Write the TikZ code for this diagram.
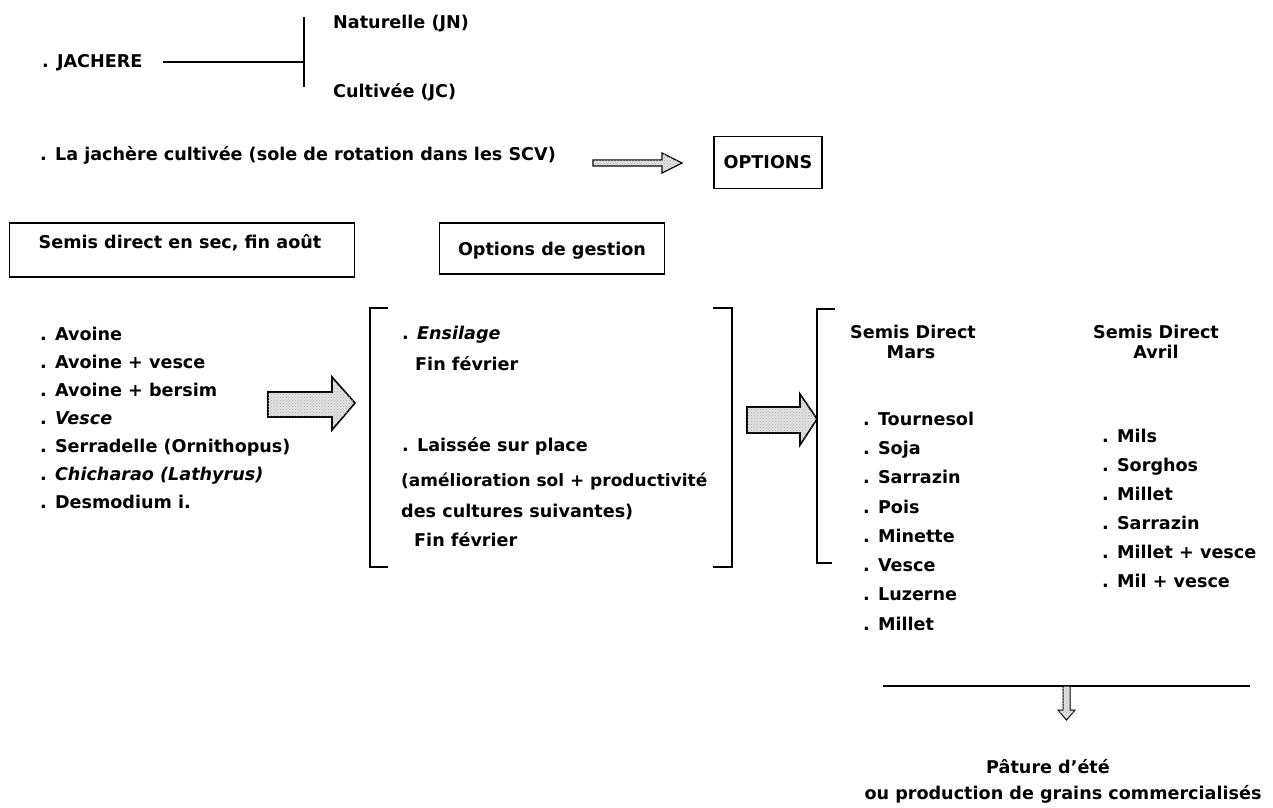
\documentclass[tikz,border=0pt]{standalone}
\usepackage{fontspec}
\setmainfont{DejaVu Sans}
\usetikzlibrary{patterns}

\begin{document}
\begin{tikzpicture}[x=1pt,y=-1pt,
  txt/.style={inner sep=0pt, anchor=base west, font=\fontsize{17.6}{20}\selectfont\bfseries},
  ctxt/.style={inner sep=0pt, anchor=base, font=\fontsize{17.6}{20}\selectfont\bfseries},
  labelbox/.style={draw, line width=1.2pt, inner sep=0pt},
  rule/.style={line width=1.3pt},
  blockarrow/.style={draw, line width=1.6pt, line join=miter, fill=gray!22,
    postaction={pattern=crosshatch dots, pattern color=gray!70}}
]
\useasboundingbox (0,0) rectangle (1273,807);

% --- Jachère: natural or cultivated
\node[txt] (jach) at (42,67) {. JACHERE};
\coordinate (jline) at (163,62);
\coordinate (fork) at (304,62);
\draw[rule] (jline) -- (fork);
\draw[rule] (304,17) -- (304,87);
\node[txt] (jn) at (333,28) {Naturelle (JN)};
\node[txt] (jc) at (333,97) {Cultivée (JC)};

% --- Cultivated fallow leads to options
\node[txt] (jcult) at (40,160) {. La jachère cultivée (sole de rotation dans les SCV)};
\node[labelbox, minimum width=108, minimum height=52] (opt) at (768,162.5) {};
\node[ctxt] at (768,168) {OPTIONS};
\coordinate (a0) at (593,163);
\draw[blockarrow, line width=1.2pt]
  (a0) ++(0,-3) -- ++(69,0) -- ++(0,-7) -- (682,163) -- (662,173) -- ++(0,-7) -- ++(-69,0) -- cycle;

% --- Headings
\node[labelbox, minimum width=345, minimum height=54] (semis) at (182,250) {};
\node[ctxt] at (180,248) {Semis direct en sec, fin août};
\node[labelbox, minimum width=225, minimum height=51] (gest) at (552,248.5) {};
\node[ctxt] at (552,255) {Options de gestion};

% --- Cover crops sown in late August
\node[txt] (c1) at (40,340) {. Avoine};
\node[txt] (c2) at (40,368) {. Avoine + vesce};
\node[txt] (c3) at (40,396) {. Avoine + bersim};
\node[txt] (c4) at (40,424) {. \textit{Vesce}};
\node[txt] (c5) at (40,452) {. Serradelle (Ornithopus)};
\node[txt] (c6) at (40,480) {. \textit{Chicharao (Lathyrus)}};
\node[txt] (c7) at (40,508) {. Desmodium i.};

% block arrow to management options
\draw[blockarrow] (268,392) -- (332,392) -- (332,377) -- (355,403)
  -- (332,430) -- (332,417) -- (268,417) -- cycle;

% --- Management options, between brackets
\draw[rule] (388,308) -- (370,308) -- (370,567) -- (388,567);
\draw[rule] (713,308) -- (732,308) -- (732,567) -- (713,567);
\node[txt] (o1) at (402,339) {. \textit{Ensilage}};
\node[txt] (o2) at (415,370) {Fin février};
\node[txt] (o3) at (402,451) {. Laissée sur place};
\node[txt, font=\fontsize{17}{20}\selectfont\bfseries] (o4) at (401,486) {(amélioration sol + productivité};
\node[txt] (o5) at (401,517) {des cultures suivantes)};
\node[txt] (o6) at (414,546) {Fin février};

% block arrow to the following crops
\draw[blockarrow] (747,407) -- (800,407) -- (800,394) -- (817,419)
  -- (800,445) -- (800,433) -- (747,433) -- cycle;

% --- Following crops
\draw[rule] (835,309) -- (817,309) -- (817,563) -- (832,563);
\node[ctxt] (hm1) at (913,338) {Semis Direct};
\node[ctxt] (hm2) at (911,358) {Mars};
\node[ctxt] (ha1) at (1156,338) {Semis Direct};
\node[ctxt] (ha2) at (1156,358) {Avril};

\node[txt] (m1) at (863,425) {. Tournesol};
\node[txt] (m2) at (863,454) {. Soja};
\node[txt] (m3) at (863,483) {. Sarrazin};
\node[txt] (m4) at (863,513) {. Pois};
\node[txt] (m5) at (863,542) {. Minette};
\node[txt] (m6) at (863,571) {. Vesce};
\node[txt] (m7) at (863,600) {. Luzerne};
\node[txt] (m8) at (863,630) {. Millet};

\node[txt] (v1) at (1102,442) {. Mils};
\node[txt] (v2) at (1102,471) {. Sorghos};
\node[txt] (v3) at (1102,500) {. Millet};
\node[txt] (v4) at (1102,529) {. Sarrazin};
\node[txt] (v5) at (1102,558) {. Millet + vesce};
\node[txt] (v6) at (1102,587) {. Mil + vesce};

% --- Outcome
\coordinate (bl) at (883,686);
\coordinate (br) at (1250,686);
\draw[rule] (bl) -- (br);
\draw[blockarrow, line width=1pt] (1063,686) -- (1070,686) -- (1070,710) -- (1075,710)
  -- (1066.5,720) -- (1058,710) -- (1063,710) -- cycle;
\node[ctxt] (out1) at (1048,773) {Pâture d'été};
\node[ctxt] (out2) at (1063,799) {ou production de grains commercialisés};
\end{tikzpicture}
\end{document}
